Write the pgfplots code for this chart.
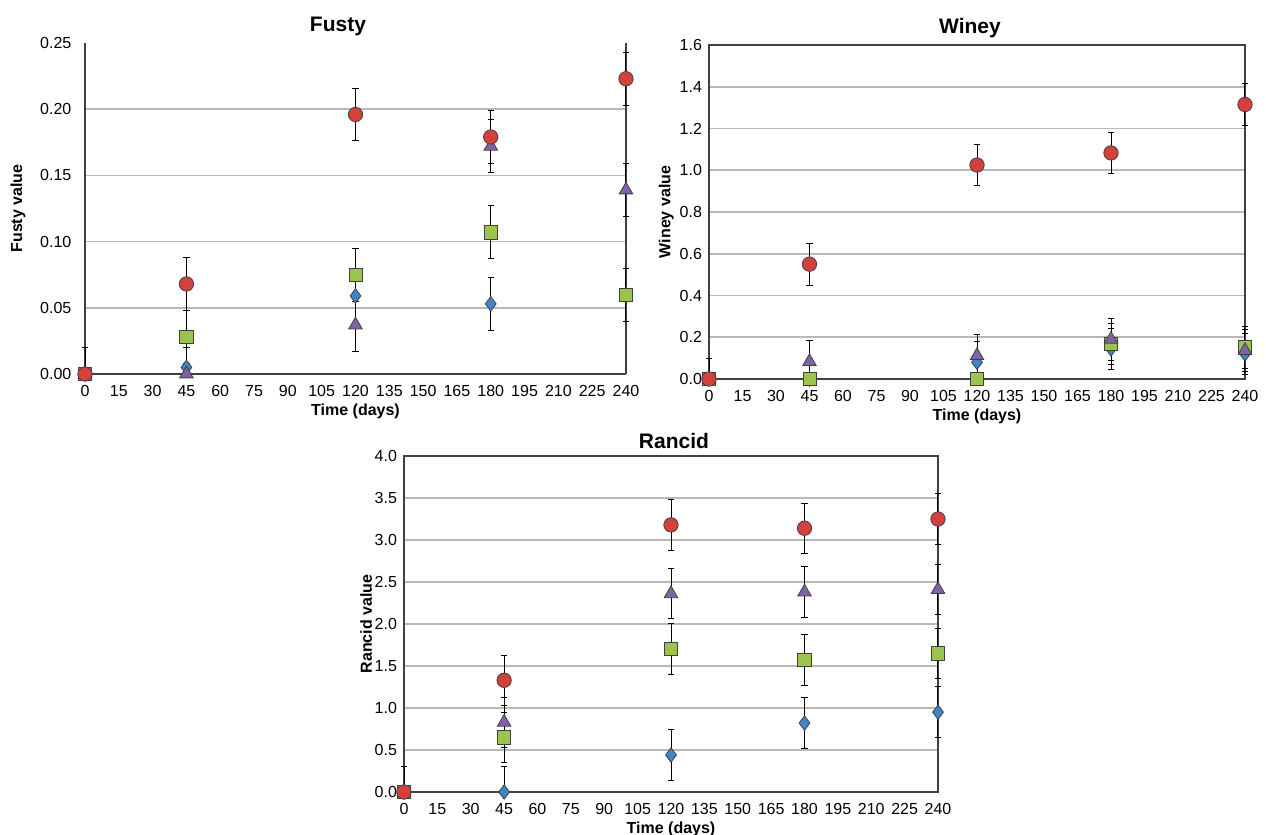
\documentclass[border=0pt]{standalone}
\usepackage{fontspec}
\setmainfont{Liberation Sans}
\usepackage{pgfplots}
\pgfplotsset{compat=1.18}
\definecolor{cred}{HTML}{D4403C}
\definecolor{cpur}{HTML}{7F62A8}
\definecolor{cgrn}{HTML}{9BC44C}
\definecolor{cblu}{HTML}{3F86C9}
\pgfplotsset{
  eb/.style={error bars/.cd, y dir=both, y explicit, error mark=|,
    error bar style={black, line width=0.5pt},
    error mark options={black, line width=0.5pt, mark size=1.6pt}},
  sblu/.style={only marks, mark=diamond*, mark size=3.6pt, mark options={fill=cblu, draw=black!75, line width=0.4pt}, eb},
  sgrn/.style={only marks, mark=square*, mark size=3.3pt, mark options={fill=cgrn, draw=black!75, line width=0.4pt}, eb},
  spur/.style={only marks, mark=triangle*, mark size=3.9pt, mark options={fill=cpur, draw=black!75, line width=0.4pt}, eb},
  sred/.style={only marks, mark=*, mark size=3.6pt, mark options={fill=cred, draw=black!75, line width=0.4pt}, eb},
  base/.style={
    scale only axis, clip=false,
    xmin=0, xmax=240, xtick={0,15,...,240},
    major tick length=0pt,
    ymajorgrids, grid style={black!28, line width=0.8pt},
    axis line style={black!75, line width=0.7pt, -},
    tick label style={font=\fontsize{8}{9}\selectfont},
    xticklabel style={yshift=-2pt},
    label style={font=\bfseries\fontsize{8}{9}\selectfont},
    title style={font=\bfseries\fontsize{10.5}{12}\selectfont, yshift=-6pt},
    /pgf/number format/assume math mode=true,
    xlabel={Time (days)},
    xlabel style={at={(axis description cs:0.5,0)}, anchor=center, yshift=-18.5pt},
  },
}
\begin{document}
\begin{tikzpicture}
\useasboundingbox (0pt,0pt) rectangle (633pt,417.5pt);
% Fusty
\begin{axis}[base, at={(42.5pt,230.5pt)}, anchor=south west,
  width=270.5pt, height=165.5pt,
  axis x line*=bottom, axis y line*=box,
  ymin=0, ymax=0.25, ytick={0,0.05,0.1,0.15,0.2},
  extra y ticks={0.25}, extra y tick style={grid=none},
  yticklabel style={/pgf/number format/fixed, /pgf/number format/fixed zerofill, /pgf/number format/precision=2, xshift=-3.3pt},
  title={Fusty}, title style={xshift=-8.75pt},
  ylabel={Fusty value},
  ylabel style={at={(axis description cs:-0.124,0.5)}, anchor=center},
]
\addplot[sblu] coordinates {(0,0) += (0,0.02) -= (0,0) (45,0.005) += (0,0.02) -= (0,0.005) (120,0.059) +- (0,0.02) (180,0.053) +- (0,0.02) (240,0.06) +- (0,0.02)};
\addplot[sgrn] coordinates {(0,0) += (0,0.02) -= (0,0) (45,0.028) +- (0,0.02) (120,0.075) +- (0,0.02) (180,0.107) +- (0,0.02) (240,0.06) +- (0,0.02)};
\addplot[spur] coordinates {(0,0) += (0,0.02) -= (0,0) (45,0) += (0,0.02) -= (0,0) (120,0.037) +- (0,0.02) (180,0.172) +- (0,0.02) (240,0.139) +- (0,0.02)};
\addplot[sred] coordinates {(0,0) += (0,0.02) -= (0,0) (45,0.068) +- (0,0.02) (120,0.196) +- (0,0.02) (180,0.179) +- (0,0.02) (240,0.223) +- (0,0.02)};
\end{axis}
% Winey
\begin{axis}[base, at={(354.5pt,228pt)}, anchor=south west,
  width=268pt, height=167pt,
  ymin=0, ymax=1.6, ytick={0,0.2,0.4,0.6,0.8,1.0,1.2,1.4,1.6},
  yticklabel style={/pgf/number format/fixed, /pgf/number format/fixed zerofill, /pgf/number format/precision=1},
  title={Winey}, title style={xshift=-3.5pt},
  ylabel={Winey value},
  ylabel style={at={(axis description cs:-0.080,0.5)}, anchor=center},
]
\addplot[sblu] coordinates {(0,0) += (0,0.1) -= (0,0) (45,0) += (0,0.1) -= (0,0) (120,0.08) +- (0,0.1) (180,0.144) +- (0,0.1) (240,0.12) +- (0,0.1)};
\addplot[sgrn] coordinates {(0,0) += (0,0.1) -= (0,0) (45,0) += (0,0.1) -= (0,0) (120,0) += (0,0.1) -= (0,0) (180,0.168) +- (0,0.1) (240,0.152) +- (0,0.1)};
\addplot[spur] coordinates {(0,0) += (0,0.1) -= (0,0) (45,0.083) += (0,0.1) -= (0,0.083) (120,0.112) +- (0,0.1) (180,0.19) +- (0,0.1) (240,0.136) +- (0,0.1)};
\addplot[sred] coordinates {(0,0) += (0,0.1) -= (0,0) (45,0.55) +- (0,0.1) (120,1.025) +- (0,0.1) (180,1.083) +- (0,0.1) (240,1.315) +- (0,0.1)};
\end{axis}
% Rancid
\begin{axis}[base, at={(202pt,21.5pt)}, anchor=south west,
  width=267pt, height=168pt,
  ymin=0, ymax=4, ytick={0,0.5,1.0,1.5,2.0,2.5,3.0,3.5,4.0},
  yticklabel style={/pgf/number format/fixed, /pgf/number format/fixed zerofill, /pgf/number format/precision=1},
  title={Rancid}, title style={xshift=1.5pt},
  ylabel={Rancid value},
  ylabel style={at={(axis description cs:-0.071,0.5)}, anchor=center},
]
\addplot[sblu] coordinates {(0,0) += (0,0.3) -= (0,0) (45,0) += (0,0.3) -= (0,0) (120,0.44) +- (0,0.3) (180,0.82) +- (0,0.3) (240,0.95) +- (0,0.3)};
\addplot[sgrn] coordinates {(0,0) += (0,0.3) -= (0,0) (45,0.65) +- (0,0.3) (120,1.70) +- (0,0.3) (180,1.57) +- (0,0.3) (240,1.65) +- (0,0.3)};
\addplot[spur] coordinates {(0,0) += (0,0.3) -= (0,0) (45,0.83) +- (0,0.3) (120,2.36) +- (0,0.3) (180,2.38) +- (0,0.3) (240,2.41) +- (0,0.3)};
\addplot[sred] coordinates {(0,0) += (0,0.3) -= (0,0) (45,1.33) +- (0,0.3) (120,3.18) +- (0,0.3) (180,3.14) +- (0,0.3) (240,3.25) +- (0,0.3)};
\end{axis}
\end{tikzpicture}
\end{document}
